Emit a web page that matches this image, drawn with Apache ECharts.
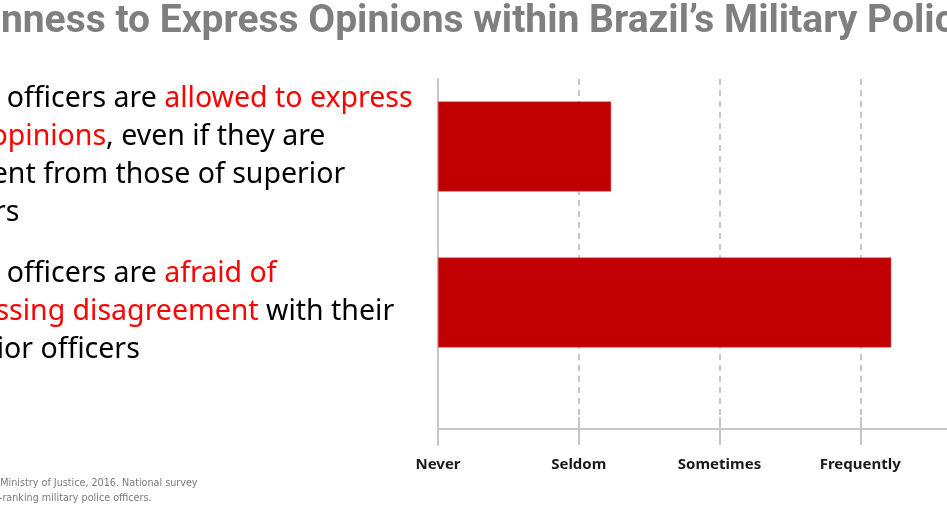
<!DOCTYPE html>
<html>
<head>
<meta charset="utf-8">
<script src="https://cdn.jsdelivr.net/npm/echarts@6/dist/echarts.min.js"></script>
<style>
html,body{margin:0;padding:0;background:#fff;}
#chart{width:947px;height:507px;}
</style>
</head>
<body>
<div id="chart"></div>
<script>
// ---- data ----
var titleText = "Openness to Express Opinions within Brazil\u2019s Military Police";
var categories = [
  "Junior officers are {r|allowed to express}\n{r|their opinions}, even if they are\ndifferent from those of superior\nofficers",
  "Junior officers are {r|afraid of}\n{r|expressing disagreement} with their\nsuperior officers"
];
var values = [1.23, 3.22];
var tickLabels = ["Never", "Seldom", "Sometimes", "Frequently", "Always"];
var sourceLines = [
  "Source: Ministry of Justice, 2016. National survey",
  "of lower-ranking military police officers."
];

var chart = echarts.init(document.getElementById('chart'));
var gridLeft = 438, gridRight = -54;
var axisGray = '#c6c6c6';

chart.setOption({
  animation: false,
  backgroundColor: '#ffffff',
  grid: [
    {left: gridLeft, right: gridRight, top: 68.5, bottom: 126.5, containLabel: false, outerBoundsMode: 'none'},
    {left: gridLeft, right: gridRight, top: 79, bottom: 62, containLabel: false, outerBoundsMode: 'none'}
  ],
  xAxis: [
    {gridIndex: 0, type: 'value', min: 0, max: 4, interval: 1, show: false},
    {gridIndex: 1, type: 'value', min: 0, max: 4, interval: 1, position: 'bottom', offset: -16,
      axisLine: {show: true, lineStyle: {color: axisGray, width: 2}},
      axisTick: {show: true, inside: false, length: 16, lineStyle: {color: axisGray, width: 2}},
      axisLabel: {show: true, margin: 28,
        formatter: function (v) { return tickLabels[Math.round(v)] || ''; },
        color: '#1a1a1a', fontSize: 15, fontWeight: 'bold', fontFamily: 'Noto Sans'},
      splitLine: {show: true, lineStyle: {color: '#b4b4b4', width: 1.5, type: [6, 5]}}
    },
    {gridIndex: 1, type: 'value', min: 0, max: 4, interval: 1, position: 'bottom', offset: -16,
      axisLine: {show: false},
      axisTick: {show: true, inside: true, length: 12, lineStyle: {color: axisGray, width: 2}},
      axisLabel: {show: false},
      splitLine: {show: false}
    }
  ],
  yAxis: [
    {gridIndex: 0, type: 'category', inverse: true, data: categories,
      axisLine: {show: false}, axisTick: {show: false}, splitLine: {show: false},
      axisLabel: {show: true, align: 'left', margin: 518, interval: 0,
        padding: [18, 0, 0, 0],
        color: '#000000', fontSize: 28.5, fontFamily: 'Noto Sans', lineHeight: 38,
        rich: {
          r: {color: '#ff0000', fontSize: 28.5, fontFamily: 'Noto Sans', lineHeight: 38}
        }
      }
    },
    {gridIndex: 1, type: 'value', min: 0, max: 1,
      axisLine: {show: true, onZero: false, lineStyle: {color: axisGray, width: 2}},
      axisTick: {show: false}, axisLabel: {show: false}, splitLine: {show: false}
    }
  ],
  series: [{
    type: 'bar', xAxisIndex: 0, yAxisIndex: 0,
    data: values, barWidth: 90,
    itemStyle: {color: '#c00000', borderColor: '#d84c4c', borderWidth: 0.5},
    z: 5
  }],
  graphic: [
    {type: 'text', left: -69, top: 3, z: 10,
      style: {text: titleText, fill: '#7f7f7f', font: 'bold 39px Roboto, sans-serif'}},
    {type: 'text', left: -39, top: 476, z: 10,
      style: {text: sourceLines.join('\n'), fill: '#7a7a7a', lineHeight: 15,
        font: '10.7px "DejaVu Sans Condensed", sans-serif'}}
  ]
});
</script>
</body>
</html>
